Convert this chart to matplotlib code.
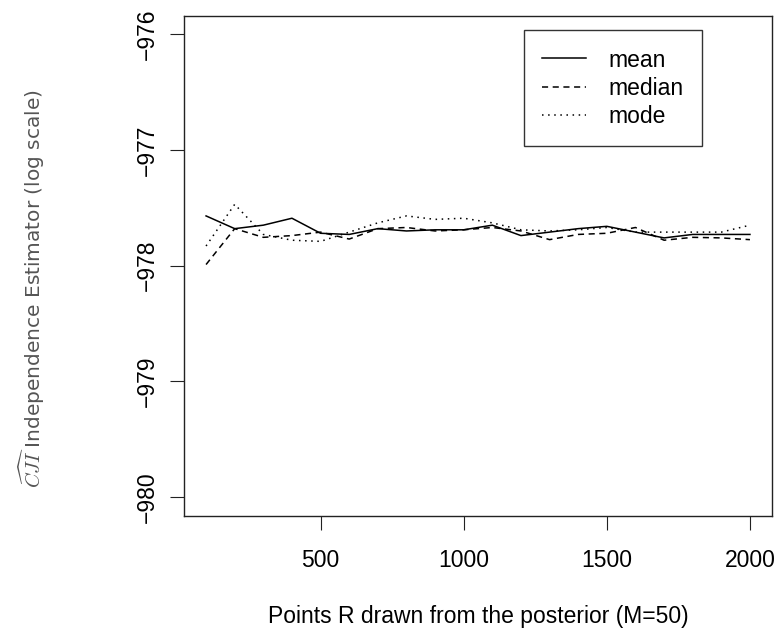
import numpy as np
import matplotlib
matplotlib.use("Agg")
import matplotlib.pyplot as plt

# ============================================================
# DATA
# ============================================================

points_r = [100, 200, 300, 400, 500, 600, 700, 800, 900, 1000,
            1100, 1200, 1300, 1400, 1500, 1600, 1700, 1800, 1900, 2000]

est_mean = [-977.57, -977.68, -977.65, -977.59, -977.72, -977.73, -977.68,
            -977.70, -977.69, -977.69, -977.65, -977.74, -977.71, -977.68,
            -977.66, -977.71, -977.76, -977.73, -977.73, -977.73]

est_median = [-977.99, -977.68, -977.755, -977.74, -977.71, -977.77, -977.68,
              -977.67, -977.70, -977.69, -977.67, -977.70, -977.775, -977.73,
              -977.72, -977.67, -977.78, -977.755, -977.76, -977.775]

est_mode = [-977.83, -977.47, -977.73, -977.78, -977.79, -977.71, -977.63,
            -977.57, -977.60, -977.59, -977.63, -977.69, -977.70, -977.69,
            -977.67, -977.71, -977.71, -977.71, -977.71, -977.65]

x_ticks = [500, 1000, 1500, 2000]
y_ticks = [-980, -979, -978, -977, -976]

legend_labels = ["mean", "median", "mode"]

# ============================================================
# STYLE
# ============================================================

plt.rcParams['font.family'] = ['Liberation Sans', 'DejaVu Sans']
plt.rcParams['mathtext.fontset'] = 'cm'
FS = 16.5
LW = 1.1

# ============================================================
# PLOT
# ============================================================

fig = plt.figure(figsize=(7.78, 6.35), dpi=100)
ax = fig.add_axes([0.2369, 0.1879, 0.755, 0.7874])

ax.plot(points_r, est_mean, color='black', linewidth=LW,
        label=legend_labels[0])
ax.plot(points_r, est_median, color='black', linewidth=LW,
        dashes=(4, 3), label=legend_labels[1])
ax.plot(points_r, est_mode, color='black', linewidth=LW,
        dashes=(1, 3), label=legend_labels[2])

ax.set_xlim(24, 2076)
ax.set_ylim(-980.16, -975.84)

ax.set_xticks(x_ticks)
ax.set_yticks(y_ticks)
ax.set_yticklabels([f'\u2212{abs(v)}' for v in y_ticks],
                   rotation=90, va='center')

ax.tick_params(axis='both', direction='out', length=10, width=0.8,
               labelsize=FS, color='#222222')
ax.tick_params(axis='x', pad=14)
ax.tick_params(axis='y', pad=8)

for sp in ax.spines.values():
    sp.set_linewidth(1.0)
    sp.set_color('#222222')

ax.set_xlabel('Points R drawn from the posterior (M=50)', fontsize=FS,
              va='center')
ax.xaxis.set_label_coords(0.5, -0.2026)

ax.set_ylabel(r'$\widehat{CJI}$ Independence Estimator (log scale)',
              fontsize=14.5, color='#555555', family='DejaVu Sans',
              va='center')
ax.yaxis.set_label_coords(-0.2593, 0.455)

leg = ax.legend(loc='upper left', bbox_to_anchor=(0.578, 0.971),
                borderaxespad=0, fontsize=FS, handlelength=1.9,
                handletextpad=1.0, labelspacing=0.22, borderpad=0.8,
                fancybox=False, frameon=True, edgecolor='black')
leg.get_frame().set_linewidth(1.0)

fig.savefig('out.png', dpi=100)
